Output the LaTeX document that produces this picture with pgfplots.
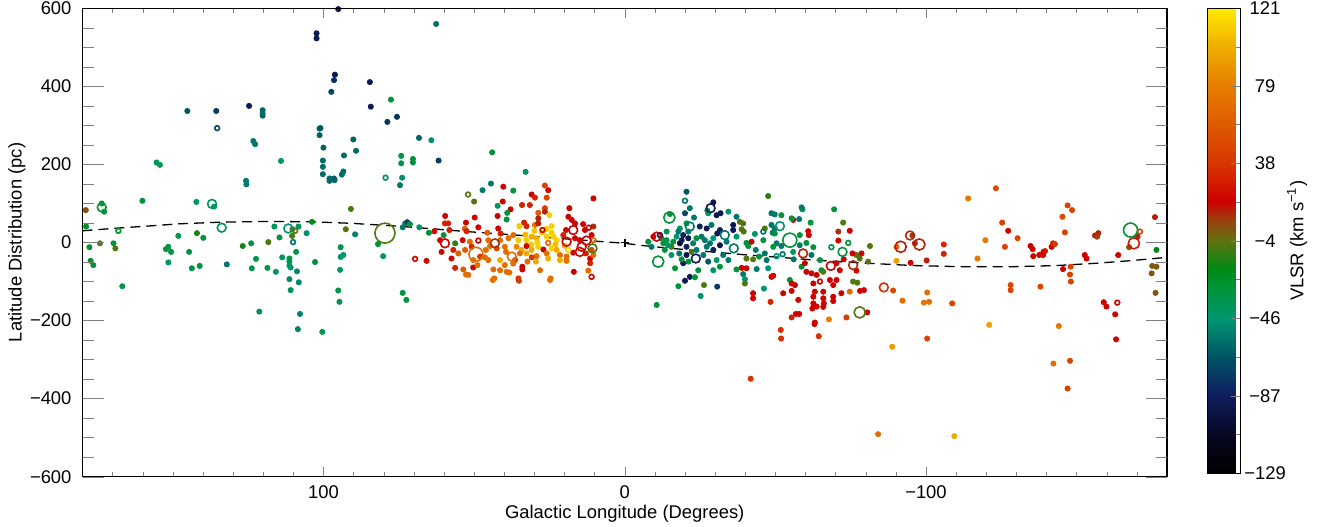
\documentclass[border=0pt]{standalone}
\usepackage{fontspec}
\setmainfont{Liberation Sans}
\usepackage{pgfplots}
\pgfplotsset{compat=1.18}
\usepackage{pgfplotstable}

\pgfplotstableread{
l b v
95.1 598 -92
102.3 536 -92
102.3 523 -92
96.2 430 -92
96.5 416 -80
97.4 386 -70
145.2 337 -65
135.6 337 -75
124.7 350 -90
120.2 339 -60
120.2 331 -60
120.2 325 -60
101.3 292 -65
101.0 293 -65
101.3 275 -62
100.0 243 -62
100.2 210 -58
100.2 194 -58
100.2 175 -60
98.0 164 -60
98.0 158 -60
96.5 164 -62
96.3 160 -62
93.9 174 -58
93.4 182 -58
93.2 223 -58
90.1 264 -62
89.2 235 -58
123.3 260 -55
122.7 252 -55
125.7 158 -55
125.6 149 -55
114.1 209 -42
155.4 205 -38
154.3 199 -38
160.1 107 -28
142.2 104 -40
136.3 92 -42
173.6 100 -28
172.8 79 -28
178.9 83 5
90.9 86 -8
178.8 41 -25
148.2 17 -35
142.0 24 -15
139.9 12 -32
116.3 41 -40
114.6 13 -32
110.3 34 -8
108.3 41 -40
110.4 17 -8
105.6 24 -48
103.8 53 -20
92.6 34 -6
89.5 21 -52
177.7 -12 -28
174.2 -2 -6
169.7 -2 -32
169.1 -15 -6
177.3 -47 -25
176.4 -58 -30
166.8 -112 -35
152.3 -17 -32
151.5 -11 -32
150.6 -24 -30
151.5 -51 -45
144.6 -24 -32
143.7 -66 -32
141.1 -60 -32
132.1 -56 -55
126.8 -9 -15
124.0 -2 -32
122.4 -42 -35
123.8 -66 -35
121.3 -177 -35
118.6 -65 -35
118.3 1 -6
115.8 -75 -45
113.7 -38 -42
111.3 -41 -32
111.3 -49 -35
111.3 -59 -45
110.9 -64 -45
109.1 -24 -35
108.8 -74 -50
111.3 -94 -50
108.2 -102 -52
110.9 -122 -38
107.8 -183 -52
108.5 -222 -52
100.4 -229 -35
102.8 -50 -30
94.3 -12 -35
94.3 -37 -45
93.4 -32 -45
94.5 -70 -42
95.1 -123 -35
94.7 -152 -35
81.9 -4 -30
80.2 -35 -42
62.6 560 -58
84.6 411 -92
77.6 366 -28
84.3 348 -92
75.6 322 -78
78.8 309 -78
68.3 268 -62
64.2 262 -48
74.2 222 -35
74.2 203 -35
70.3 214 -32
70.3 205 -32
61.8 210 -75
44.0 231 -28
32.9 181 -40
73.9 166 -48
74.6 147 -55
44.4 151 -55
47.2 134 -55
40.3 143 18
37.0 133 -32
26.5 146 45
25.4 134 18
50.0 105 -5
30.9 123 18
29.8 115 30
25.9 115 45
10.4 113 18
42.2 94 -42
40.5 105 18
37.9 85 18
39.0 76 -32
42.2 68 18
39.2 59 -32
34.1 96 30
31.5 96 30
26.5 88 45
28.7 76 60
26.5 79 12
25.0 70 112
18.4 88 18
18.7 66 18
17.6 58 18
16.5 49 18
13.8 47 18
10.4 41 10
59.6 68 18
59.7 49 30
58.6 49 30
52.7 51 18
48.6 39 18
49.8 64 20
58.2 32 30
53.1 35 60
52.5 29 30
63.2 29 18
65.0 25 -30
60.1 19 -30
42.0 36 18
41.2 23 30
45.6 25 60
35.0 42 110
33.4 51 30
32.6 42 30
29.8 45 70
28.7 62 12
28.7 49 12
24.3 42 112
24.3 25 112
23.7 15 112
20.4 19 30
19.5 32 18
13.2 32 18
11.0 19 18
61.3 6 18
56.3 -2 -12
53.8 6 20
51.4 2 70
45.3 6 70
41.4 6 70
38.6 11 70
37.0 19 70
35.3 6 110
32.6 6 110
30.9 15 100
29.3 11 100
25.9 15 112
22.6 6 112
16.5 11 18
14.9 6 18
27.5 25 112
30.0 30 108
26.0 35 112
33.0 20 105
29.0 0 112
23.0 -5 105
20.0 -8 100
31.0 -5 110
60.8 -24 20
56.9 -19 30
55.2 -28 60
53.0 -19 60
50.8 -11 30
46.1 -19 70
44.7 -9 70
42.5 -15 45
39.8 -11 70
39.4 -24 70
35.9 -11 85
34.2 -19 100
32.6 -9 18
30.9 -19 100
28.7 -11 112
27.0 -18 18
24.3 -15 112
22.6 -19 100
21.5 -32 70
19.3 -36 70
17.1 -26 18
12.9 -28 30
11.5 -41 18
11.5 -53 30
65.8 -47 20
57.5 -41 20
56.3 -65 30
53.6 -69 60
50.3 -64 18
48.9 -58 70
51.9 -83 70
52.7 -82 70
45.3 -45 70
43.6 -69 70
43.3 -92 70
41.4 -71 70
39.8 -58 70
39.2 -75 70
38.3 -77 70
35.3 -92 40
35.1 -98 40
34.0 -62 18
34.0 -69 18
32.3 -49 70
29.5 -49 100
28.1 -71 70
24.6 -92 70
21.5 -45 100
19.3 -47 70
16.9 -75 18
12.1 -72 70
10.4 -32 70
11.0 -19 50
25.9 -28 70
25.4 -41 100
29.3 -35 70
30.9 -38 40
32.6 -28 100
34.8 -28 70
36.4 -45 40
46.4 -38 70
48.0 -36 40
41.4 -45 100
37.0 -54 70
50.3 -45 70
43.8 -96 70
24.8 -96 70
72.9 49 -35
72.2 52 -75
71.3 47 -32
68.2 39 -45
73.7 39 -55
73.7 -129 -32
72.5 -147 -32
-20.5 130 -65
-47.6 119 -12
-29.4 103 -92
-31.8 75 -92
-30.5 70 -92
-20.0 75 -72
-23.0 64 -55
-27.4 82 -30
-27.7 75 -45
-34.4 79 -45
-15.0 73 -30
-37.1 66 -55
-38.2 53 -6
-39.3 49 -6
-38.8 34 -6
-39.5 28 -6
-36.0 45 -92
-36.0 32 -92
-31.6 32 -85
-30.7 23 -92
-28.8 45 -55
-27.2 36 -92
-24.9 41 -85
-25.5 15 -55
-21.1 28 -55
-18.3 36 -45
-19.4 19 -85
-17.2 15 -45
-13.9 28 -30
-12.2 11 -45
-12.8 -2 -30
-15.5 -11 -6
-18.3 -2 -100
-20.5 -11 -85
-22.7 -2 -55
-23.8 -19 -55
-22.2 -24 -6
-26.1 -32 -55
-28.3 -2 -55
-29.4 -19 -85
-31.6 -7 -92
-33.8 2 -55
-32.7 -32 -55
-34.4 -45 -55
-30.5 -45 -45
-27.7 -49 -65
-31.6 -62 -30
-29.4 -71 -45
-19.4 -53 -92
-21.1 -49 -30
-16.7 -66 -30
-24.4 -71 -30
-21.6 -88 -92
-20.0 -98 -92
-17.8 -112 -30
-23.3 -89 -30
-26.3 -109 -6
-25.2 -137 -45
-30.7 -113 -75
-10.6 -160 -28
-9.5 15 18
-13.3 -19 -30
-15.5 -32 -45
-18.9 -43 -30
-18.1 -28 -55
-20.5 -32 -92
-37.1 15 -45
-40.4 -1 -30
-41.0 -9 -30
-42.1 2 18
-43.2 22 -45
-43.5 -19 -55
-40.4 -41 -6
-42.6 -43 -6
-44.6 -36 -30
-46.5 -28 -55
-47.1 -45 -55
-46.0 6 -30
-46.5 36 -6
-48.7 75 -55
-49.8 72 -55
-52.0 70 -30
-48.7 45 -55
-49.8 36 -55
-49.1 25 -55
-49.8 23 -30
-50.4 -2 -55
-52.0 -9 -55
-49.3 -11 -30
-47.6 -66 -45
-43.8 -68 -55
-40.4 -66 18
-38.8 -65 18
-37.1 -69 -30
-39.3 -81 -55
-39.9 -94 -45
-39.9 -105 -6
-42.6 -130 18
-42.6 -143 18
-46.2 -118 -45
-48.7 -88 18
-49.3 -85 18
-52.6 -130 18
-55.4 -124 18
-57.6 -147 18
-54.8 -96 -30
-55.4 -105 18
-56.5 -109 18
-58.7 -62 -30
-59.8 -53 18
-56.1 -43 -55
-55.9 -24 -45
-58.1 -7 -55
-58.1 19 -30
-57.9 60 -55
-55.9 58 18
-55.4 62 -30
-59.0 85 -40
-58.7 90 -55
-61.7 51 -30
-60.9 29 18
-61.1 19 18
-60.3 -1 -30
-62.6 -12 -30
-62.0 -32 -55
-64.8 -45 -30
-65.3 -71 -30
-63.7 -83 18
-62.0 -79 18
-65.9 -75 -6
-62.6 -105 18
-63.1 -126 18
-62.6 -139 18
-65.9 -126 18
-65.9 -143 18
-62.6 -156 18
-66.1 -156 18
-69.2 -109 18
-68.1 -96 18
-70.3 -96 18
-71.9 -130 18
-69.2 -139 18
-75.8 -100 -6
-78.1 -124 18
-79.4 -122 18
-74.7 -126 70
-69.5 85 -30
-72.5 51 -6
-70.9 28 10
-74.7 30 18
-70.9 5 18
-72.7 -43 18
-71.4 -71 18
-70.3 -53 18
-76.9 -32 -6
-78.0 -41 -6
-80.8 -49 -6
-81.4 -9 -6
-75.6 -28 18
-78.6 -28 18
-76.9 -72 18
-77.2 -103 -6
-60.3 -75 18
-7.8 2 -30
-8.9 -11 -55
-13.9 6 -30
-16.1 2 -30
-14.4 -7 -45
-18.9 6 -92
-21.1 11 -92
-23.8 11 -30
-26.6 6 -55
-29.4 11 -45
-27.2 -11 -55
-17.8 28 -55
-20.5 49 -30
-21.6 88 -55
-48.4 -152 30
-69.2 -150 18
-62.3 -169 18
-63.7 -164 18
-65.9 -165 18
-56.8 -183 18
-57.9 -183 18
-55.4 -192 30
-63.1 -205 18
-63.0 -209 18
-67.8 -197 80
-73.6 -192 40
-80.5 -179 18
-51.8 -224 35
-51.9 -246 35
-64.4 -240 35
-41.8 -349 35
-88.8 -267 92
-84.1 -491 70
-123.2 139 50
-114.0 113 75
-147.0 95 45
-148.5 83 45
-145.3 66 50
-176.0 65 12
-125.3 51 45
-127.3 30 18
-146.1 26 45
-95.5 18 10
-90.2 -11 65
-96.3 -2 12
-105.9 -5 30
-105.9 -29 30
-119.7 6 75
-117.1 -41 75
-126.2 -11 45
-130.4 11 45
-134.7 -9 18
-135.4 -17 18
-135.6 -35 18
-137.6 -32 18
-138.9 -32 18
-139.0 -24 18
-139.5 -22 25
-141.7 -11 18
-142.2 -2 30
-142.8 -4 40
-156.1 18 12
-157.2 24 12
-156.8 15 8
-152.7 -32 18
-153.3 -41 18
-163.8 -32 18
-170.2 15 12
-167.4 -12 2
-176.5 -19 -18
-175.1 -60 2
-176.5 -62 2
-174.9 -79 2
-176.2 -129 2
-90.2 -47 95
-94.9 -52 18
-100.2 -46 12
-145.5 -68 18
-148.0 -62 45
-147.8 -82 45
-148.1 -100 45
-138.0 -113 45
-128.1 -109 45
-128.1 -122 45
-89.1 -123 50
-92.2 -149 70
-100.4 -128 70
-99.3 -154 75
-101.0 -152 70
-108.7 -156 45
-159.0 -153 18
-159.9 -164 18
-162.8 -184 18
-163.1 -248 18
-121.0 -211 95
-144.1 -214 75
-100.4 -246 45
-142.3 -310 70
-147.8 -303 45
-147.0 -374 45
-109.4 -496 100
}\filled

% open circles, grouped by ring size
\pgfplotstableread{
l b v
168.1 30 -25
135.3 293 -70
109.4 30 -3
110.1 1 -55
79.4 166 -42
52.0 123 -5
11.9 38 18
27.3 32 18
48.6 5 18
25.4 -1 70
10.4 6 70
18.7 -19 112
69.6 -42 20
11.0 -88 20
-20.0 107 -55
-11.7 19 -92
-46.0 28 -55
-50.4 -35 -45
-52.4 -30 -55
-74.2 -1 -30
-68.6 -12 -30
-64.8 -100 18
-171.0 28 45
-163.5 -154 18
}\opensmall

\pgfplotstableread{
l b v
137.0 99 -40
173.6 90 -28
133.8 38 -42
111.7 36 -45
17.1 32 18
59.7 -2 18
43.1 -2 10
19.3 2 18
12.7 5 18
14.3 -11 18
14.9 -24 18
10.7 -15 -10
37.5 -36 70
-28.5 88 -92
-33.2 19 -55
-21.6 41 -55
-10.6 15 18
-23.6 -41 -92
-36.2 -15 -55
-51.5 42 -45
-59.2 -28 12
-72.3 -24 -30
-68.4 -60 18
-75.8 -58 10
-94.7 18 10
-86.0 -115 35
}\openmed

\pgfplotstableread{
l b v
-14.8 64 -30
-11.1 -49 -30
-78.0 -179 -6
-91.6 -11 12
-97.8 -5 12
-169.0 -2 25
}\openlarge

\pgfplotstableread{
l b v
49.4 -30 70
-54.8 6 -30
-167.9 32 -30
}\openxl

\pgfplotstableread{
l b v
79.6 24 -6
}\openxxl

\pgfplotsset{
  colormap={vlsr}{rgb255(0pt)=(0,0,0); rgb255(20pt)=(6,6,32); rgb255(42pt)=(15,30,95); rgb255(62pt)=(0,82,100); rgb255(83pt)=(0,150,112); rgb255(100pt)=(0,148,55); rgb255(110pt)=(0,138,22); rgb255(125pt)=(95,115,15); rgb255(137pt)=(160,60,15); rgb255(146pt)=(205,0,0); rgb255(167pt)=(215,55,0); rgb255(208pt)=(230,125,0); rgb255(228pt)=(238,170,0); rgb255(250pt)=(255,235,0)},
  ring/.style={scatter, only marks, mark=o, point meta=explicit, line width=0.8pt,
    mark size=#1, scatter/use mapped color={draw=mapped color}},
}

\begin{document}
\fontsize{9.2}{11}\selectfont
\begin{tikzpicture}
\begin{axis}[
  name=main,
  scale only axis,
  width=542.25pt, height=234.2pt,
  xmin=-180, xmax=180, ymin=-600, ymax=600,
  x dir=reverse,
  axis line style={line width=0.5pt},
  tick align=inside,
  major tick length=4.75pt, minor tick length=2.5pt,
  xtick={-100,0,100}, xticklabels={−100,0,100},
  minor xtick={-170,-160,...,170},
  ytick={-600,-400,...,600}, yticklabels={−600,−400,−200,0,200,400,600},
  ytick style={draw=none},
  xticklabel style={yshift=-1pt},
  yticklabel style={xshift=-2.25pt},
  xlabel={Galactic Longitude (Degrees)},
  ylabel={Latitude Distribution (pc)},
  xlabel style={at={(axis description cs:0.5,0)}, anchor=center, yshift=-18.65pt},
  ylabel style={at={(axis description cs:0,0.5)}, anchor=center, yshift=32.75pt},
  point meta min=-129, point meta max=121,
  colorbar,
  colorbar style={
    at={(parent axis.north east)}, anchor=north west, xshift=11.5pt,
    scale only axis,
    width=16.5pt, height=232.5pt,
    ytick={-129,-87.333,-45.667,-4,37.667,79.333,121},
    yticklabels={−129,−87,−46,−4,38,79,121},
    minor ytick={-108.167,-66.5,-24.833,16.833,58.5,100.167},
    ytick pos=right, yticklabel pos=right,
    tick align=inside,
    major tick length=4.5pt, minor tick length=2pt,
    yticklabel style={anchor=center, xshift=12.5pt},
    ylabel={VLSR (km s\textsuperscript{−1})},
    ylabel style={at={(axis description cs:1,0.5)}, anchor=center, yshift=-28.5pt},
    axis line style={line width=0.5pt},
  },
  clip=true,
]
\addplot[scatter, only marks, mark=*, mark size=1.3pt, point meta=explicit,
  scatter/use mapped color={draw=mapped color, fill=mapped color}]
  table[x=l, y=b, meta=v] {\filled};
\addplot[ring=1.2pt] table[x=l, y=b, meta=v] {\opensmall};
\addplot[ring=2.2pt] table[x=l, y=b, meta=v] {\openmed};
\addplot[ring=2.8pt] table[x=l, y=b, meta=v] {\openlarge};
\addplot[ring=3.5pt] table[x=l, y=b, meta=v] {\openxl};
\addplot[ring=5pt] table[x=l, y=b, meta=v] {\openxxl};
\addplot[black, line width=0.65pt, dash pattern=on 5pt off 3pt] coordinates {
(180,30) (168.2,37) (158.6,42) (147.6,48) (134.4,52) (118.8,54) (103.5,53) (90.2,49) (73.6,41) (63.7,35) (52.4,28) (41.4,22) (30.5,16) (19.2,9) (10.6,4) (0,-2) (-5,-7) (-14,-14) (-25.9,-22) (-39.2,-31) (-51.5,-38) (-64.8,-46) (-80.4,-53) (-95.7,-59) (-112.3,-62) (-128.9,-62) (-143.5,-59) (-156.8,-53) (-168.7,-46) (-180,-38)
};
\addplot[only marks, mark=+, mark size=2pt, black, line width=0.9pt] coordinates {(0,0)};
\end{axis}
\begin{axis}[
  scale only axis,
  width=542.25pt, height=234.2pt,
  xmin=-180, xmax=180, ymin=-600, ymax=600,
  axis line style={line width=0.5pt},
  xtick=\empty,
  ytick={-600,-400,...,600}, yticklabels={},
  minor ytick={-550,-500,...,550},
  tick align=inside,
  major tick length=10.5pt, minor tick length=5.5pt,
]
\end{axis}
\pgfresetboundingbox
\path[use as bounding box] (-41.25pt,-24.65pt) rectangle (618.75pt,238.35pt);
\end{tikzpicture}
\end{document}
